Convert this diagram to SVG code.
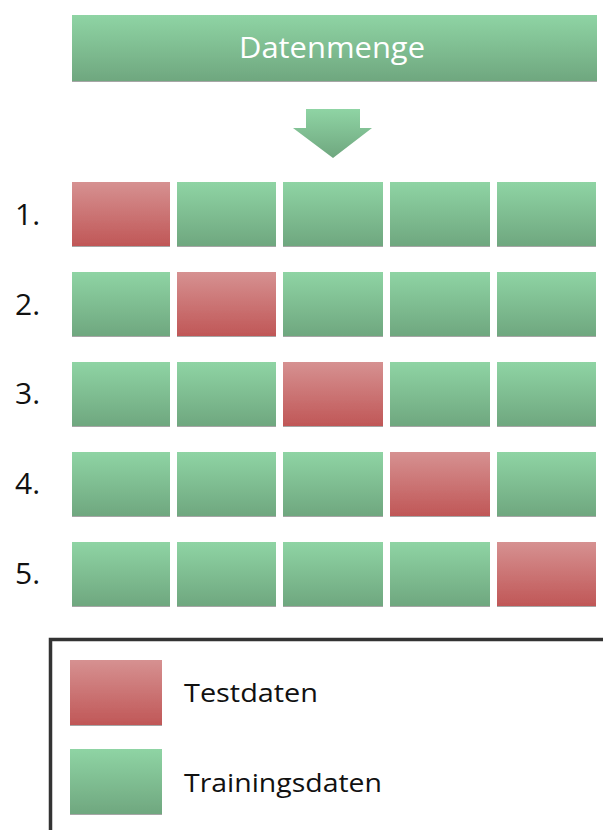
<svg xmlns="http://www.w3.org/2000/svg" width="603" height="830" viewBox="0 0 603 830">
<defs>
<linearGradient id="g" x1="0" y1="0" x2="0" y2="1"><stop offset="0" stop-color="#8fd4a4"/><stop offset="1" stop-color="#6fa77f"/></linearGradient>
<linearGradient id="r" x1="0" y1="0" x2="0" y2="1"><stop offset="0" stop-color="#d69191"/><stop offset="1" stop-color="#c05757"/></linearGradient>
<filter id="sh" x="-5%" y="-5%" width="110%" height="115%"><feDropShadow dx="0" dy="1" stdDeviation="0.6" flood-color="#000" flood-opacity="0.35"/></filter>
</defs>
<style>
.g{fill:url(#g);filter:url(#sh)}
.r{fill:url(#r);filter:url(#sh)}
.n{font-family:"Open Sans","Noto Sans","DejaVu Sans",sans-serif;font-size:30px;fill:#111}
.l{font-family:"Open Sans","Noto Sans","DejaVu Sans",sans-serif;font-size:25px;fill:#111}
.t{font-family:"Open Sans","Noto Sans","DejaVu Sans",sans-serif;font-size:29px;fill:#fff}
</style>
<g id="datenmenge">
<rect class="g" x="72" y="15" width="525" height="66"/>
<text class="t" x="332" y="58" text-anchor="middle" textLength="186" lengthAdjust="spacingAndGlyphs">Datenmenge</text>
</g>
<g id="arrow">
<polygon points="306,109 360,109 360,128 372,128 333,158 293,128 306,128" fill="url(#g)"/>
</g>
<g id="row1">
<text class="n" x="15" y="225">1.</text>
<rect class="r" x="72" y="182" width="98" height="64"/>
<rect class="g" x="177" y="182" width="99" height="64"/>
<rect class="g" x="283" y="182" width="100" height="64"/>
<rect class="g" x="390" y="182" width="100" height="64"/>
<rect class="g" x="497" y="182" width="99" height="64"/>
</g>
<g id="row2">
<text class="n" x="15" y="315">2.</text>
<rect class="g" x="72" y="272" width="98" height="64"/>
<rect class="r" x="177" y="272" width="99" height="64"/>
<rect class="g" x="283" y="272" width="100" height="64"/>
<rect class="g" x="390" y="272" width="100" height="64"/>
<rect class="g" x="497" y="272" width="99" height="64"/>
</g>
<g id="row3">
<text class="n" x="15" y="404">3.</text>
<rect class="g" x="72" y="362" width="98" height="64"/>
<rect class="g" x="177" y="362" width="99" height="64"/>
<rect class="r" x="283" y="362" width="100" height="64"/>
<rect class="g" x="390" y="362" width="100" height="64"/>
<rect class="g" x="497" y="362" width="99" height="64"/>
</g>
<g id="row4">
<text class="n" x="15" y="494">4.</text>
<rect class="g" x="72" y="452" width="98" height="64"/>
<rect class="g" x="177" y="452" width="99" height="64"/>
<rect class="g" x="283" y="452" width="100" height="64"/>
<rect class="r" x="390" y="452" width="100" height="64"/>
<rect class="g" x="497" y="452" width="99" height="64"/>
</g>
<g id="row5">
<text class="n" x="15" y="584">5.</text>
<rect class="g" x="72" y="542" width="98" height="64"/>
<rect class="g" x="177" y="542" width="99" height="64"/>
<rect class="g" x="283" y="542" width="100" height="64"/>
<rect class="g" x="390" y="542" width="100" height="64"/>
<rect class="r" x="497" y="542" width="99" height="64"/>
</g>
<g id="legend">
<rect x="50.5" y="639.5" width="600" height="300" fill="none" stroke="#333" stroke-width="3.5"/>
<rect class="r" x="70" y="660" width="92" height="65"/>
<text class="l" x="184" y="702" textLength="134" lengthAdjust="spacingAndGlyphs">Testdaten</text>
<rect class="g" x="70" y="749" width="92" height="65"/>
<text class="l" x="184" y="792" textLength="198" lengthAdjust="spacingAndGlyphs">Trainingsdaten</text>
</g>
</svg>
